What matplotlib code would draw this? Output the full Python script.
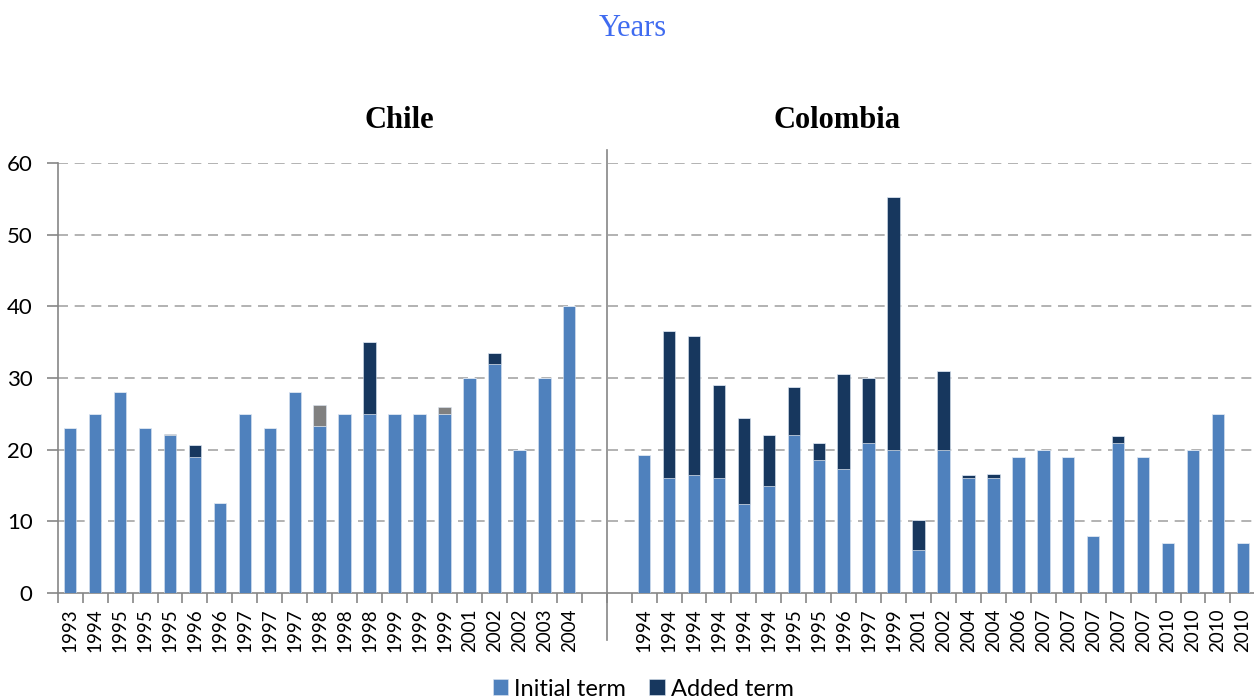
import matplotlib.pyplot as plt
import numpy as np

# term lengths (years) per contract, stacked: initial + added (+ other, unlabelled)
chile_years = ["1993", "1994", "1995", "1995", "1995", "1996", "1996", "1997", "1997", "1997",
               "1998", "1998", "1998", "1999", "1999", "1999", "2001", "2002", "2002", "2003", "2004"]
chile_initial = [23, 25, 28, 23, 22, 19, 12.6, 25, 23, 28, 23.3, 25, 25, 25, 25, 25, 30, 32, 20, 30, 40]
chile_added = [0, 0, 0, 0, 0, 1.6, 0, 0, 0, 0, 0, 0, 10, 0, 0, 0, 0, 1.5, 0, 0, 0]
chile_other = [0, 0, 0, 0, 0.2, 0, 0, 0, 0, 0, 2.9, 0, 0, 0, 0, 0.9, 0, 0, 0, 0, 0]

colombia_years = ["1994", "1994", "1994", "1994", "1994", "1994", "1995", "1995", "1996", "1997",
                  "1999", "2001", "2002", "2004", "2004", "2006", "2007", "2007", "2007", "2007",
                  "2007", "2010", "2010", "2010", "2010"]
colombia_initial = [19.2, 16, 16.4, 16, 12.4, 15, 22.1, 18.6, 17.3, 21, 20, 6, 20, 16, 16,
                    19, 20, 19, 7.9, 21, 19, 7, 20, 25, 7]
colombia_added = [0, 20.6, 19.5, 13, 12, 7.1, 6.7, 2.4, 13.2, 9, 35.3, 4.2, 11, 0.4, 0.6,
                  0, 0, 0, 0, 0.9, 0, 0, 0, 0, 0]
colombia_other = [0] * len(colombia_years)

c_init = "#4F81BD"
c_add = "#17375E"
c_other = "#808080"

plt.rcParams['font.family'] = ['Lato', 'DejaVu Sans']

fig = plt.figure(figsize=(12.54, 6.98), dpi=100)
W, H = 1254, 698
ax = fig.add_axes([57.7 / W, 105 / H, (1255.4 - 57.7) / W, 430 / H])

n_ch = len(chile_years)
gap = 2
x = np.concatenate([np.arange(n_ch), np.arange(len(colombia_years)) + n_ch + gap])
labels = chile_years + colombia_years
initial = np.array(chile_initial + colombia_initial)
added = np.array(chile_added + colombia_added)
other = np.array(chile_other + colombia_other)

bw = 0.5
ax.bar(x, initial, bw, color=c_init, edgecolor="#dce6f2", linewidth=0.4, label="Initial term", zorder=3)
ax.bar(x, added, bw, bottom=initial, color=c_add, edgecolor="#dce6f2", linewidth=0.4,
       label="Added term", zorder=3)
ax.bar(x, other, bw, bottom=initial + added, color=c_other, edgecolor="#dce6f2", linewidth=0.4,
       label="_other", zorder=3)

ax.set_xlim(-0.5, x[-1] + 0.5)
ax.set_ylim(0, 60)
ax.set_yticks(range(0, 61, 10))
for v in range(10, 61, 10):
    ax.axhline(v, color="#A6A6A6", linewidth=1.2, linestyle=(0, (6, 4)), zorder=1)

# divider between the two countries
sep = n_ch + gap / 2 - 0.5
ax.axvline(sep, ymin=-0.11, ymax=1.03, color="#868686", linewidth=1.2, clip_on=False, zorder=4)

ax.set_xticks(x)
ax.set_xticklabels(labels, rotation=90, fontsize=13.5)
ax.set_xticks(np.arange(-0.5, x[-1] + 1, 1), minor=True)
ax.tick_params(axis="x", which="major", length=0, pad=11)
ax.tick_params(axis="x", which="minor", length=7, width=1.2, color="#868686")
ax.tick_params(axis="y", length=8, width=1.2, color="#868686", pad=10, labelsize=16)

for s in ["top", "right"]:
    ax.spines[s].set_visible(False)
for s in ["left", "bottom"]:
    ax.spines[s].set_color("#868686")
    ax.spines[s].set_linewidth(1.2)

fig.text(633 / W, 1 - 29 / H, "Years", ha="center", va="center", color="#3F6BF0",
         fontsize=22, family="Liberation Serif")
fig.text(399 / W, 1 - 120 / H, "Chile", ha="center", va="center", fontsize=22,
         fontweight="bold", family="Liberation Serif")
fig.text(837 / W, 1 - 120 / H, "Colombia", ha="center", va="center", fontsize=22,
         fontweight="bold", family="Liberation Serif")

handles, names = ax.get_legend_handles_labels()
fig.legend(handles[:2], names[:2], loc="center", bbox_to_anchor=(643 / W, 1 - 689 / H),
           ncol=2, frameon=False, fontsize=17, handlelength=0.65, handleheight=0.65,
           handletextpad=0.25, columnspacing=1.0, borderpad=0)

fig.savefig("out.png", dpi=100)
